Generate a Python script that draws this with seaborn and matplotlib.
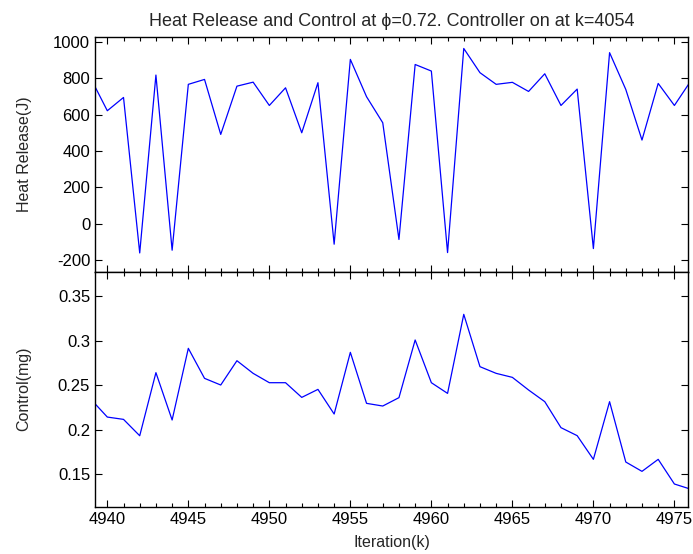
import numpy as np
import pandas as pd
import matplotlib
matplotlib.use("Agg")
import matplotlib.pyplot as plt
from matplotlib.ticker import MultipleLocator
import seaborn as sns

iterations = list(range(4939, 4977))
heat_release = [795, 621, 694, -160, 817, -145, 766, 793, 491, 756, 778, 650, 747, 500,
                775, -112, 903, 698, 555, -86, 875, 839, -158, 963, 830, 766, 777, 727,
                824, 650, 740, -136, 940, 738, 460, 771, 650, 783]
control = [0.2337, 0.214, 0.2114, 0.193, 0.2639, 0.2107, 0.2912, 0.2575, 0.25, 0.2773,
           0.2631, 0.2526, 0.2526, 0.2361, 0.2451, 0.2174, 0.2867, 0.2294, 0.2264,
           0.2358, 0.3006, 0.2526, 0.2406, 0.3294, 0.2706, 0.2631, 0.2586, 0.2444,
           0.2313, 0.2021, 0.1931, 0.1665, 0.2313, 0.1635, 0.153, 0.1665, 0.1388, 0.133]
x_ticks = [4940, 4945, 4950, 4955, 4960, 4965, 4970, 4975]
hr_ticks = [-200, 0, 200, 400, 600, 800, 1000]
ctrl_ticks = [0.15, 0.2, 0.25, 0.3, 0.35]
ctrl_ticklabels = ["0.15", "0.2", "0.25", "0.3", "0.35"]

df = pd.DataFrame({"k": iterations, "heat": heat_release, "ctrl": control})

sns.set_style("ticks")
plt.rcParams["font.family"] = ["Liberation Sans", "DejaVu Sans"]
plt.rcParams["font.size"] = 12
plt.rcParams["axes.linewidth"] = 1.0
plt.rcParams["axes.unicode_minus"] = False

fig = plt.figure(figsize=(6.93, 5.54), dpi=100)
W, H = 693, 554
left, right = 95, 688
ax1 = fig.add_axes([left / W, 1 - 271.7 / H, (right - left) / W, (271.7 - 37) / H])
ax2 = fig.add_axes([left / W, 1 - 506.7 / H, (right - left) / W, (506.7 - 271.7) / H])

sns.lineplot(data=df, x="k", y="heat", ax=ax1, color="#0000ff", lw=0.9)
sns.lineplot(data=df, x="k", y="ctrl", ax=ax2, color="#0000ff", lw=0.9)

for ax in (ax1, ax2):
    ax.set_xlim(4939.24, 4975.84)
    ax.set_xticks(x_ticks)
    ax.xaxis.set_minor_locator(MultipleLocator(1))
    ax.tick_params(which="both", direction="in", top=True, right=True,
                   colors="black", labelsize=12, width=0.8)
    ax.tick_params(which="major", length=5)
    ax.tick_params(which="minor", length=3)
    ax.tick_params(axis="y", which="minor", left=False, right=False)
    for s in ax.spines.values():
        s.set_color("black")
        s.set_visible(True)

ax1.set_ylim(-263, 1026)
ax1.set_yticks(hr_ticks)
ax1.set_xticklabels([])
ax1.set_xlabel("")
ax1.set_ylabel("Heat Release(J)", fontsize=11.5)

ax2.set_ylim(0.1133, 0.3773)
ax2.set_yticks(ctrl_ticks)
ax2.set_yticklabels(ctrl_ticklabels)
ax2.set_xlabel("Iteration(k)", fontsize=11.5, labelpad=6)
ax2.set_ylabel("Control(mg)", fontsize=11.5)

ax1.yaxis.set_label_coords(-0.107, 0.5)
ax2.yaxis.set_label_coords(-0.107, 0.5)

ax1.set_title("Heat Release and Control at \u03d5=0.72. Controller on at k=4054",
              fontsize=13, pad=8)

fig.savefig("out.png", dpi=100)
